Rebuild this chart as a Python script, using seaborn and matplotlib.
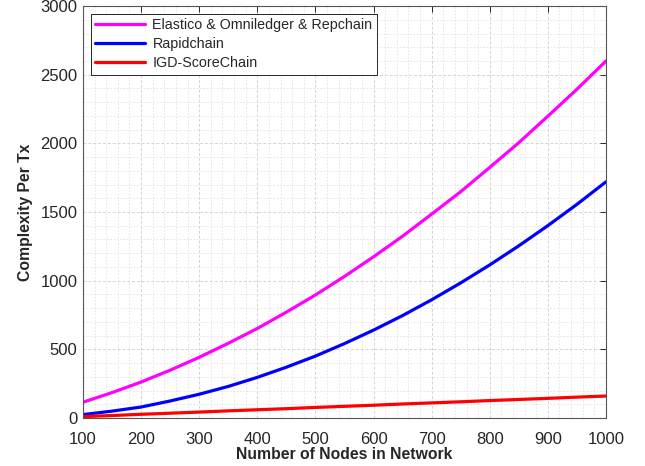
import matplotlib
matplotlib.use("Agg")
import matplotlib.pyplot as plt
import seaborn as sns
import pandas as pd
from matplotlib.ticker import MultipleLocator

nodes = [100, 150, 200, 250, 300, 350, 400, 450, 500, 550,
         600, 650, 700, 750, 800, 850, 900, 950, 1000]
elastico = [115, 185, 262, 348, 442, 544, 652, 771, 896, 1031,
            1174, 1324, 1485, 1648, 1825, 2005, 2198, 2394, 2600]
rapidchain = [25, 50, 80, 124, 173, 230, 296, 370, 451, 542,
              640, 746, 861, 984, 1115, 1254, 1401, 1556, 1720]
igd = [10, 18, 27, 35, 43, 52, 60, 68, 77, 85,
       93, 102, 110, 118, 127, 135, 143, 152, 160]

names = ["Elastico & Omniledger & Repchain", "Rapidchain", "IGD-ScoreChain"]
colors = ["#FF00FF", "#0000FF", "#FF0000"]

df = pd.concat([
    pd.DataFrame({"nodes": nodes, "val": v, "series": n})
    for v, n in zip([elastico, rapidchain, igd], names)
])

sns.set_theme(style="white")
plt.rcParams["font.family"] = ["Liberation Sans", "DejaVu Sans"]

fig = plt.figure(figsize=(6.45, 4.66), dpi=100)
ax = fig.add_axes([0.1287, 0.103, 0.8108, 0.884])

sns.lineplot(data=df, x="nodes", y="val", hue="series", hue_order=names,
             palette=colors, linewidth=2.3, ax=ax)

ax.set_xlim(100, 1000)
ax.set_ylim(0, 3000)
ax.xaxis.set_major_locator(MultipleLocator(100))
ax.yaxis.set_major_locator(MultipleLocator(500))
ax.xaxis.set_minor_locator(MultipleLocator(20))
ax.yaxis.set_minor_locator(MultipleLocator(100))
ax.grid(True, which="major", color="#d4d4d4", linestyle=(0, (3, 2)), linewidth=0.7)
ax.grid(True, which="minor", color="#e2e2e2", linestyle=(0, (2, 2)), linewidth=0.6)
ax.set_axisbelow(True)
ax.tick_params(which="major", direction="in", length=4, top=True, right=True,
               labelsize=12, colors="#262626", width=0.7)
ax.tick_params(axis="x", which="major", pad=10)
ax.tick_params(axis="y", which="major", pad=4)
ax.tick_params(which="minor", length=0)
for s in ax.spines.values():
    s.set_color("#555555")
    s.set_linewidth(0.8)

ax.set_xlabel("Number of Nodes in Network", fontsize=11.3, fontweight="bold", labelpad=0)
ax.set_ylabel("Complexity Per Tx", fontsize=11.3, fontweight="bold", labelpad=5)

leg = ax.legend(loc="upper left", fontsize=10.3, frameon=True, fancybox=False,
                edgecolor="#262626", framealpha=1, borderaxespad=0.55,
                handlelength=3.5, labelspacing=0.35, borderpad=0.3, handletextpad=0.5)
leg.get_frame().set_linewidth(0.7)

fig.savefig("out.png", dpi=100)
